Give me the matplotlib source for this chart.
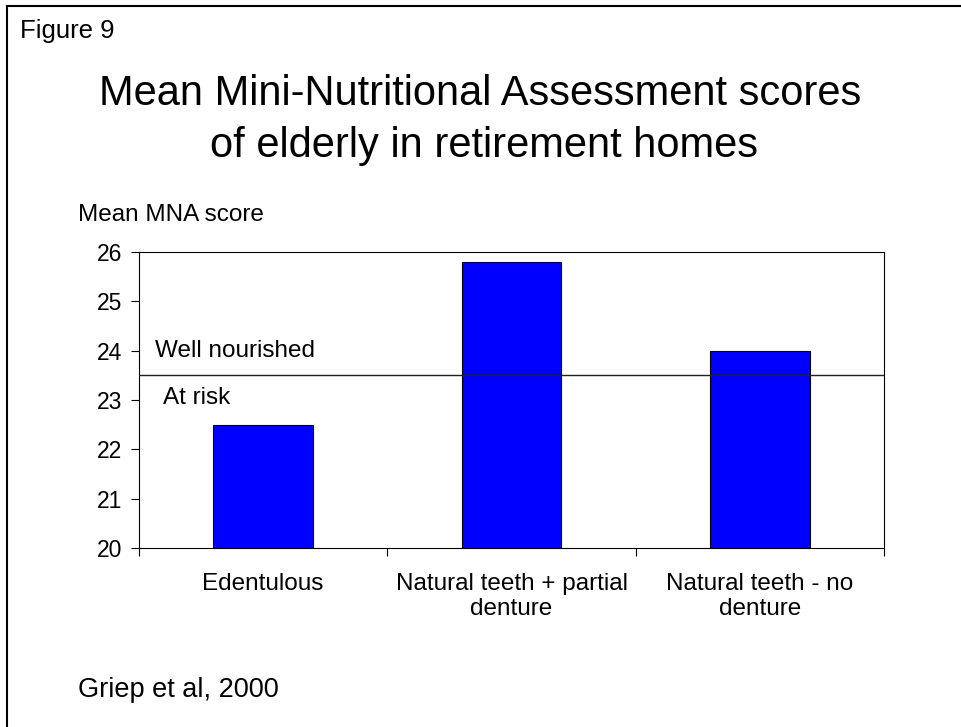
import matplotlib.pyplot as plt
import numpy as np
from matplotlib.lines import Line2D

plt.rcParams['font.family'] = ['Liberation Sans', 'DejaVu Sans']

categories = ['Edentulous', 'Natural teeth + partial\ndenture', 'Natural teeth - no\ndenture']
mean_mna = [22.5, 25.8, 24.0]
threshold = 23.5
yticks = [20, 21, 22, 23, 24, 25, 26]

fig = plt.figure(figsize=(9.61, 7.27), dpi=100)

# outer frame (only left and top edges visible in the source)
fig.add_artist(Line2D([0.0075, 0.0075], [0, 0.9915], color='black', lw=1.5, transform=fig.transFigure))
fig.add_artist(Line2D([0.0075, 1.0], [0.9915, 0.9915], color='black', lw=1.5, transform=fig.transFigure))

fig.text(0.021, 0.958, 'Figure 9', fontsize=18.5, va='center', ha='left')
fig.text(0.103, 0.8556, 'Mean Mini-Nutritional Assessment scores', fontsize=30, ha='left', va='baseline')
fig.text(0.2185, 0.784, 'of elderly in retirement homes', fontsize=30, ha='left', va='baseline')
fig.text(0.081, 0.704, 'Mean MNA score', fontsize=17.5, ha='left', va='center')
fig.text(0.081, 0.051, 'Griep et al, 2000', fontsize=19.5, ha='left', va='center')

ax = fig.add_axes([0.1446, 0.2462, 0.7754, 0.4072])
ind = np.arange(len(categories))
ax.bar(ind, mean_mna, 0.4, bottom=0, color='#0000ff', edgecolor='black', linewidth=0.8, zorder=2)
ax.axhline(threshold, color='#222222', lw=1.0, zorder=3)

ax.text(-0.436, threshold + 0.5, 'Well nourished', fontsize=17.5, ha='left', va='center')
ax.text(-0.403, threshold - 0.46, 'At risk', fontsize=17.5, ha='left', va='center')

ax.set_xlim(-0.5, len(categories) - 0.5)
ax.set_ylim(20, 26)
ax.set_yticks(yticks)
ax.tick_params(axis='y', labelsize=16.5, direction='out', length=6, width=0.8, pad=6)
ax.set_xticks(ind)
ax.set_xticklabels(categories, fontsize=17.5, linespacing=1.2)
ax.tick_params(axis='x', which='major', length=0, pad=18)
ax.set_xticks(np.arange(len(categories) + 1) - 0.5, minor=True)
ax.tick_params(axis='x', which='minor', direction='out', length=6, width=0.8)
for s in ax.spines.values():
    s.set_linewidth(0.8)

plt.savefig('out.png', dpi=100)
